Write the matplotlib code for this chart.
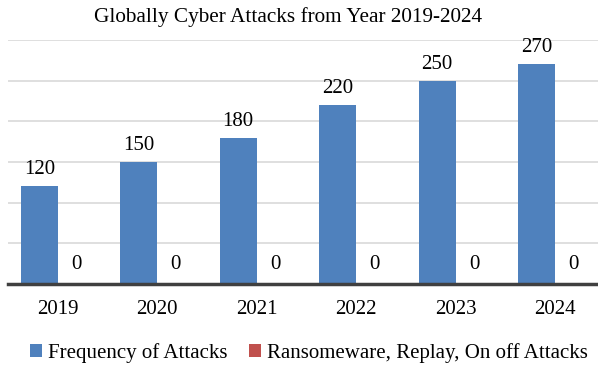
import numpy as np
import matplotlib.pyplot as plt

plt.rcParams['font.family'] = ['Liberation Serif', 'DejaVu Serif']

# datos
years = ['2019', '2020', '2021', '2022', '2023', '2024']
frequency = [120, 150, 180, 220, 250, 270]
ransomware = [0, 0, 0, 0, 0, 0]

fs = 15

fig = plt.figure(figsize=(5.98, 3.69), dpi=100)
ax = fig.add_axes([8 / 598, 1 - 284 / 369, 590 / 598, 244 / 369])

x = np.arange(len(years))
w = 0.372
b1 = ax.bar(x - w / 2, frequency, w, color='#4F81BD', label='Frequency of Attacks', zorder=3)
b2 = ax.bar(x + w / 2, ransomware, w, color='#C0504D',
            label='Ransomeware, Replay, On off Attacks', zorder=3)

for rect, v in zip(b1, frequency):
    ax.annotate(str(v), (rect.get_x() + rect.get_width() / 2, v), xytext=(0, 5),
                textcoords='offset points', ha='center', va='bottom', fontsize=fs)
for rect, v in zip(b2, ransomware):
    ax.annotate(str(v), (rect.get_x() + rect.get_width() / 2, v), xytext=(0, 7),
                textcoords='offset points', ha='center', va='bottom', fontsize=fs)

ax.set_ylim(0, 300)
ax.set_xlim(-0.5, 5.43)
ax.set_yticks(np.arange(0, 301, 50))
ax.yaxis.grid(True, color='#d9d9d9', linewidth=1.2, zorder=0)
ax.tick_params(axis='y', left=False, labelleft=False)
ax.tick_params(axis='x', bottom=False, labelsize=fs, pad=8)
ax.set_xticks(x)
ax.set_xticklabels(years)
for s in ['top', 'right', 'left']:
    ax.spines[s].set_visible(False)
ax.spines['bottom'].set_color('#404040')
ax.spines['bottom'].set_linewidth(2.5)
ax.spines['bottom'].set_zorder(4)

fig.text(288 / 598, 1 - 17 / 369, 'Globally Cyber Attacks from Year 2019-2024',
         ha='center', va='center', fontsize=15.3)

ax.legend(loc='center', bbox_to_anchor=(0.51, (284 - 353) / 244), ncol=2, frameon=False,
          fontsize=fs, handlelength=0.6, handleheight=0.6, handletextpad=0.3,
          columnspacing=1.0)

fig.savefig('out.png', dpi=100)
